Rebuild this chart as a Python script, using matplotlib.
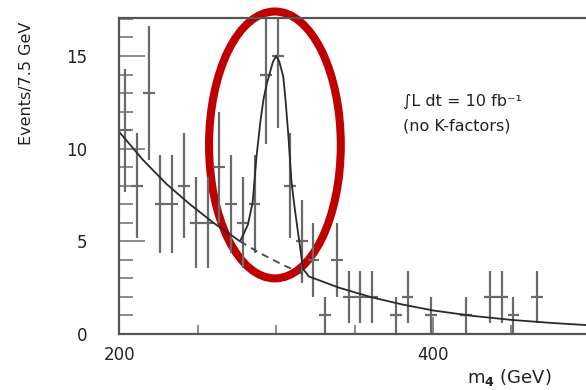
import numpy as np
import matplotlib.pyplot as plt
from matplotlib.patches import Ellipse
from matplotlib.ticker import MultipleLocator

# 7.5 GeV bins from 200 GeV, counts
bin_centers = [203.75, 211.25, 218.75, 226.25, 233.75, 241.25, 248.75, 256.25,
               263.75, 271.25, 278.75, 286.25, 293.75, 301.25, 308.75, 316.25,
               323.75, 331.25, 338.75, 346.25, 353.75, 361.25, 368.75, 376.25,
               383.75, 391.25, 398.75, 406.25, 413.75, 421.25, 428.75, 436.25,
               443.75, 451.25, 458.75, 466.25]
counts = [11, 8, 13, 7, 7, 8, 6, 6,
          9, 7, 6, 7, 14, 15, 8, 5,
          4, 1, 4, 2, 2, 2, 0, 1,
          2, 0, 1, 0, 0, 1, 0, 2,
          2, 1, 0, 2]

# background fit curve
bkg_x = [200, 215, 230, 245, 260, 277, 290, 305, 321, 340, 360, 380, 400, 425, 450, 475, 500, 525]
bkg_y = [10.9, 9.4, 8.1, 7.0, 6.0, 5.0, 4.35, 3.7, 3.1, 2.5, 2.0, 1.6, 1.27, 0.98, 0.76, 0.6, 0.47, 0.38]

# signal + background curve over the peak
peak_x = [277, 282, 285, 287.5, 290, 292, 294, 296, 298, 300, 302, 304.5, 306, 307.6, 309.8, 311.5, 313.4, 317.2, 321]
peak_y = [5.0, 5.9, 7.1, 9.6, 11.5, 12.7, 13.5, 14.1, 14.7, 15.0, 14.7, 13.9, 12.6, 10.9, 8.2, 7.0, 5.8, 3.5, 3.1]

bin_width = 7.5

fig = plt.figure(figsize=(5.86, 3.9), dpi=100)
ax = fig.add_axes([119.3 / 586, 56 / 390, 470.6 / 586, 316 / 390])

x = np.array(bin_centers)
n = np.array(counts, dtype=float)
keep = n > 0
ax.errorbar(x[keep], n[keep], xerr=bin_width / 2, yerr=np.sqrt(n[keep]),
            fmt='none', ecolor='#6a6a6a', elinewidth=1.6, capsize=0)

bx = np.array(bkg_x)
by = np.array(bkg_y)
px = np.array(peak_x)
py = np.array(peak_y)

# solid total curve: background outside the peak, signal+bkg inside
left = bx < px[0]
right = bx > px[-1]
tot_x = np.concatenate([bx[left], px, bx[right]])
tot_y = np.concatenate([by[left], py, by[right]])
ax.plot(tot_x, tot_y, color='#2a2a2a', lw=1.3)

# dashed background under the peak
mid = (bx >= px[0]) & (bx <= px[-1])
ax.plot(bx[mid], by[mid], color='#444444', lw=1.3, ls=(0, (4, 3)))

ax.set_xlim(200, 500)
ax.set_ylim(0, 17.05)

ax.xaxis.set_major_locator(MultipleLocator(200))
ax.xaxis.set_minor_locator(MultipleLocator(50))
ax.yaxis.set_major_locator(MultipleLocator(5))
ax.yaxis.set_minor_locator(MultipleLocator(1))

ax.tick_params(axis='y', which='major', direction='in', length=18.5, width=1.2,
               color='#777777', pad=23, labelsize=12, labelcolor='#222222')
ax.tick_params(axis='y', which='minor', direction='in', length=10, width=1.2, color='#777777')
ax.tick_params(axis='x', which='major', direction='in', length=12, width=1.2,
               color='#777777', pad=9, labelsize=12, labelcolor='#222222')
ax.tick_params(axis='x', which='minor', direction='in', length=6.5, width=1.2, color='#777777')

for s in ax.spines.values():
    s.set_color('#555555')
    s.set_linewidth(1.6)

# labels
fig.text(27 / 586, 1 - 83 / 390, 'Events/7.5 GeV', rotation=90, ha='center', va='center',
         fontsize=11.5, color='#222222')
fig.text(467 / 586, 1 - 377 / 390, r'm$_{\mathbf{4}}$ (GeV)', ha='left', va='center',
         fontsize=13, color='#222222')

fig.text(403 / 586, 1 - 101 / 390, '∫L dt = 10 fb⁻¹', ha='left', va='center',
         fontsize=11.5, color='#222222')
fig.text(403 / 586, 1 - 126 / 390, '(no K-factors)', ha='left', va='center',
         fontsize=11.5, color='#222222')

# red highlight ellipse round the peak
ell = Ellipse((299.2, 10.2), width=84, height=14.4, fill=False,
              edgecolor='#c00000', lw=5.8, clip_on=False)
ax.add_patch(ell)

fig.savefig('out.png', dpi=100)
